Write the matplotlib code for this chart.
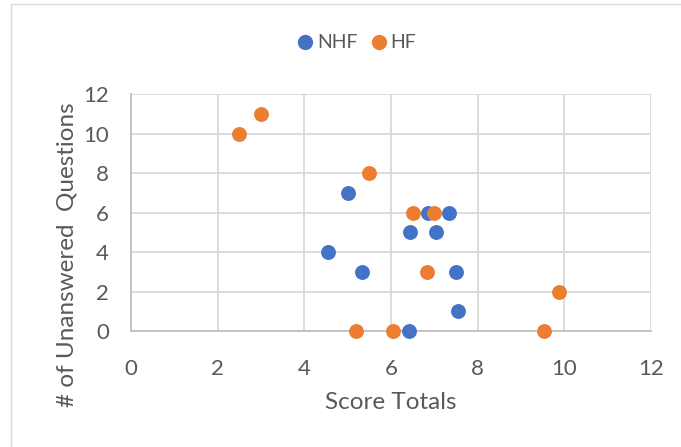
import matplotlib
matplotlib.use("Agg")
import matplotlib.pyplot as plt
from matplotlib.lines import Line2D
from matplotlib.patches import Rectangle

nhf_x = [5.0, 4.55, 5.33, 6.44, 6.85, 7.34, 7.04, 7.5, 7.55, 6.42]
nhf_y = [7, 4, 3, 5, 6, 6, 5, 3, 1, 0]
hf_x = [2.5, 3.0, 5.5, 6.5, 7.0, 6.83, 5.2, 6.05, 9.52, 9.87]
hf_y = [10, 11, 8, 6, 6, 3, 0, 0, 0, 2]
ticks = [0, 2, 4, 6, 8, 10, 12]

blue = "#4472C4"
orange = "#ED7D31"
txt = "#595959"
font = "Lato"

fig = plt.figure(figsize=(6.81, 4.47), dpi=100)
fig.patches.append(Rectangle((11/681, -0.1), 1.2, (447-4)/447 + 0.1, transform=fig.transFigure,
                             fill=False, edgecolor="#D9D9D9", linewidth=1.0))
ax = fig.add_axes([131/681, 116/447, 520/681, 237/447])
ax.set_xlim(0, 12)
ax.set_ylim(0, 12)
ax.set_xticks(ticks)
ax.set_yticks(ticks)
ax.grid(True, color="#D9D9D9", linewidth=1.3)
ax.set_axisbelow(True)
for s in ["top", "right"]:
    ax.spines[s].set_visible(False)
for s in ["left", "bottom"]:
    ax.spines[s].set_color("#BFBFBF")
    ax.spines[s].set_linewidth(1.3)
ax.tick_params(length=0, labelsize=16, labelcolor=txt)
ax.tick_params(axis="y", pad=16)
ax.tick_params(axis="x", pad=20)
for lab in ax.get_xticklabels() + ax.get_yticklabels():
    lab.set_fontfamily(font)
ax.scatter(nhf_x, nhf_y, s=115, color=blue, clip_on=False, zorder=3, linewidths=0)
ax.scatter(hf_x, hf_y, s=115, color=orange, clip_on=False, zorder=4, linewidths=0)
ax.set_xlabel("Score Totals", fontsize=17.5, color=txt, family=font)
ax.set_ylabel("# of Unanswered  Questions", fontsize=17.5, color=txt, family=font)
ax.xaxis.set_label_coords(0.5, (331-392)/237)
ax.yaxis.set_label_coords((78-131)/520, (331-255)/237)

handles = [Line2D([], [], marker="o", linestyle="none", markersize=11, color=blue, markeredgewidth=0),
           Line2D([], [], marker="o", linestyle="none", markersize=11, color=orange, markeredgewidth=0)]
fig.legend(handles, ["NHF", "HF"], loc="center", bbox_to_anchor=(355/681, 1 - 43/447), ncol=2,
           frameon=False, prop={"family": font, "size": 14}, labelcolor=txt,
           handletextpad=0.0, columnspacing=0.5, handlelength=1.2)

fig.savefig("out.png", dpi=100)
